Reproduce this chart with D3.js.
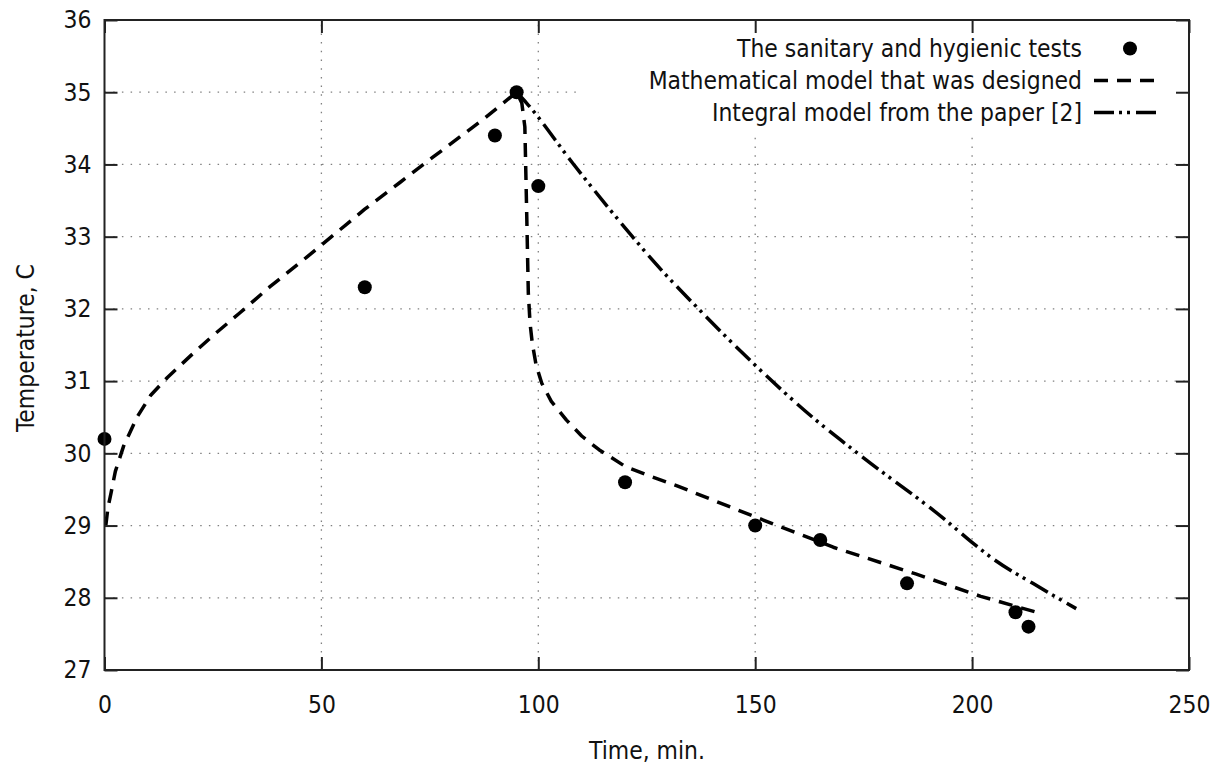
<!DOCTYPE html>
<html>
<head>
<meta charset="utf-8">
<script src="https://cdn.jsdelivr.net/npm/d3@7"></script>
<style>
  body { margin: 0; background: #fff; }
  svg text {
    font-family: 'DejaVu Sans Condensed', 'DejaVu Sans', sans-serif;
    font-stretch: condensed;
    font-size: 24.4px;
    fill: #111;
  }
  .grid line { stroke: #808080; stroke-width: 1.3; stroke-dasharray: 1.5 7.2; }
  .frame { fill: none; stroke: #222; stroke-width: 2; }
  .axis line { stroke: #222; stroke-width: 2; }
  .axis path { display: none; }
  .model { fill: none; stroke: #000; stroke-width: 3.5; stroke-dasharray: 14 9; }
  .integral { fill: none; stroke: #000; stroke-width: 3.5; stroke-dasharray: 20 5 3 5 3 6; }
  .dot { fill: #000; }
</style>
</head>
<body>
<script>
// Tick values
var x_ticks = [0, 50, 100, 150, 200, 250];
var y_ticks = [27, 28, 29, 30, 31, 32, 33, 34, 35, 36];

// Legend labels
var legend_labels = [
  'The sanitary and hygienic tests',
  'Mathematical model that was designed',
  'Integral model from the paper [2]'
];

// Measured points (sanitary and hygienic tests)
var test_time = [0, 60, 90, 95, 100, 120, 150, 165, 185, 210, 213];
var test_temp = [30.2, 32.3, 34.4, 35.0, 33.7, 29.6, 29.0, 28.8, 28.2, 27.8, 27.6];

// Mathematical model that was designed
var model_time = [0.3, 0.8, 1.5, 2.5, 4.4, 7.5, 10.6, 14.5, 20, 25, 31.3, 38, 46.7, 60, 68.1, 75.7, 87.2, 95,
  96.2, 96.9, 97.3, 97.7, 98.1, 98.6, 99.5, 100.8, 103, 106.5, 110, 114, 120, 126, 132, 150, 168, 187, 202, 216];
var model_temp = [29.0, 29.25, 29.45, 29.75, 30.1, 30.5, 30.8, 31.05, 31.36, 31.63, 31.95, 32.3, 32.72, 33.38, 33.75, 34.1, 34.62, 35.0,
  34.85, 34.52, 33.4, 32.22, 31.8, 31.53, 31.22, 30.97, 30.72, 30.46, 30.24, 30.05, 29.82, 29.68, 29.55, 29.12, 28.7, 28.33, 28.02, 27.78];

// Integral model from the paper [2]
var integral_time = [95, 97.3, 107.9, 121.7, 126.7, 137.1, 149.3, 164, 174.5, 194.6, 199.9, 205.3, 214, 224];
var integral_temp = [35.0, 34.85, 34.02, 33.0, 32.65, 31.99, 31.26, 30.46, 29.96, 29.04, 28.77, 28.52, 28.2, 27.85];

// SVG size and plot area
var svg_width = 1223;
var svg_height = 765;
var plot_left = 104.5;
var plot_right = 1189;
var plot_top = 20;
var plot_bottom = 670;
var tick_len = 13;

var x = d3.scaleLinear().domain([0, 250]).range([plot_left, plot_right]);
var y = d3.scaleLinear().domain([27, 36]).range([plot_bottom, plot_top]);

var svg = d3.select('body').append('svg')
  .attr('width', svg_width)
  .attr('height', svg_height);

// Dotted grid (inner ticks only)
var grid = svg.append('g').attr('class', 'grid');
grid.selectAll('line.gx')
  .data(x_ticks.slice(1, -1))
  .enter()
  .append('line')
  .attr('class', 'gx')
  .attr('x1', function(d) { return x(d); })
  .attr('x2', function(d) { return x(d); })
  .attr('y1', plot_bottom)
  .attr('y2', plot_top);
grid.selectAll('line.gy')
  .data(y_ticks.slice(1, -1))
  .enter()
  .append('line')
  .attr('class', 'gy')
  .attr('x1', plot_left)
  .attr('x2', plot_right)
  .attr('y1', function(d) { return y(d); })
  .attr('y2', function(d) { return y(d); });

// Opaque legend box hides the grid behind the key
svg.append('rect')
  .attr('x', 583)
  .attr('y', plot_top + 1)
  .attr('width', plot_right - 583)
  .attr('height', 110)
  .attr('fill', '#fff');

// Curves
var model_pts = model_time.map(function(t, i) { return [t, model_temp[i]]; });
var integral_pts = integral_time.map(function(t, i) { return [t, integral_temp[i]]; });

var line = d3.line()
  .x(function(d) { return x(d[0]); })
  .y(function(d) { return y(d[1]); });

svg.append('path')
  .attr('class', 'model')
  .attr('stroke-linejoin', 'round')
  .attr('d', line(model_pts));

svg.append('path')
  .attr('class', 'integral')
  .attr('d', line.curve(d3.curveMonotoneX)(integral_pts));

// Test points
svg.selectAll('circle.dot')
  .data(test_time)
  .enter()
  .append('circle')
  .attr('class', 'dot')
  .attr('cx', function(d) { return x(d); })
  .attr('cy', function(d, i) { return y(test_temp[i]); })
  .attr('r', 7);

// Axes: inward ticks on all four sides, labels on bottom and left
svg.append('g')
  .attr('class', 'axis')
  .attr('transform', 'translate(0,' + plot_bottom + ')')
  .call(d3.axisBottom(x).tickValues(x_ticks).tickSize(-tick_len).tickPadding(26));
svg.append('g')
  .attr('class', 'axis')
  .attr('transform', 'translate(0,' + plot_top + ')')
  .call(d3.axisTop(x).tickValues(x_ticks).tickSize(-tick_len).tickFormat(''));
svg.append('g')
  .attr('class', 'axis')
  .attr('transform', 'translate(' + plot_left + ',0)')
  .call(d3.axisLeft(y).tickValues(y_ticks).tickSize(-tick_len).tickPadding(13));
svg.append('g')
  .attr('class', 'axis')
  .attr('transform', 'translate(' + plot_right + ',0)')
  .call(d3.axisRight(y).tickValues(y_ticks).tickSize(-tick_len).tickFormat(''));

// Remove d3's default font settings so the css applies
svg.selectAll('.axis').attr('font-family', null).attr('font-size', null);
svg.selectAll('.axis text').attr('fill', null);

// Plot border
svg.append('rect')
  .attr('class', 'frame')
  .attr('x', plot_left)
  .attr('y', plot_top)
  .attr('width', plot_right - plot_left)
  .attr('height', plot_bottom - plot_top);

// Axis titles
svg.append('text')
  .attr('x', 647)
  .attr('y', 750)
  .attr('dy', '0.35em')
  .attr('text-anchor', 'middle')
  .text('Time, min.');

svg.append('text')
  .attr('text-anchor', 'middle')
  .attr('dy', '0.35em')
  .attr('transform', 'translate(25,348) rotate(-90)')
  .text('Temperature, C');

// Legend
var legend_y = [48.5, 80.5, 112.5];
svg.selectAll('text.legend-text')
  .data(legend_labels)
  .enter()
  .append('text')
  .attr('class', 'legend-text')
  .attr('x', 1082)
  .attr('y', function(d, i) { return legend_y[i]; })
  .attr('dy', '0.35em')
  .attr('text-anchor', 'end')
  .text(function(d) { return d; });

svg.append('circle')
  .attr('class', 'dot')
  .attr('cx', 1130)
  .attr('cy', legend_y[0])
  .attr('r', 7);

svg.append('line')
  .attr('class', 'model')
  .attr('x1', 1094).attr('x2', 1159)
  .attr('y1', legend_y[1]).attr('y2', legend_y[1]);

svg.append('line')
  .attr('class', 'integral')
  .attr('x1', 1094).attr('x2', 1159)
  .attr('y1', legend_y[2]).attr('y2', legend_y[2]);
</script>
</body>
</html>
